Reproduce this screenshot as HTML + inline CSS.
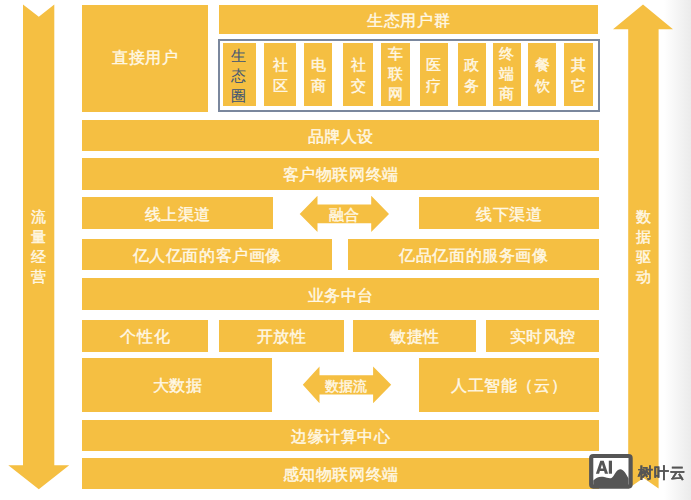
<!DOCTYPE html>
<html><head><meta charset="utf-8">
<style>
html,body{margin:0;padding:0;}
body{width:691px;height:500px;position:relative;overflow:hidden;background:#fff;font-family:"Liberation Sans",sans-serif;}
.bg{position:absolute;left:0;top:0;width:691px;height:500px;background:linear-gradient(to right,#fff 0,#fff 664px,#ebebeb 691px);}
.b{position:absolute;background:#F5BF42;color:#FFF8E6;display:flex;align-items:center;justify-content:center;font-size:16.4px;line-height:1;white-space:nowrap;-webkit-text-stroke:0.4px currentColor;box-sizing:border-box;padding-top:1.5px;letter-spacing:0.6px;padding-left:0.6px;}
.v{flex-direction:column;line-height:20px;font-size:15px;padding-top:0;letter-spacing:0;padding-left:0;}
.v2{line-height:21px;padding-top:1px;}
.ol{position:absolute;left:218px;top:39px;width:378px;height:68.6px;border:2px solid #7A879D;}
svg{position:absolute;left:0;top:0;}
.t{position:absolute;color:#FFF8E6;font-size:15px;line-height:1;white-space:nowrap;-webkit-text-stroke:0.4px currentColor;}
</style></head><body><div id="w" style="position:absolute;left:0;top:0;width:691px;height:500px;">
<div class="bg"></div>
<svg width="691" height="500" viewBox="0 0 691 500">
  <polygon fill="#F5BF42" points="23,4.5 38.8,16.8 54.3,4.5 54.3,465.3 69.2,465.3 38.8,489.2 8.3,465.3 23,465.3"/>
  <polygon fill="#F5BF42" points="643,4.5 673,29.2 658.6,29.2 658.6,488.5 643.5,478 628.2,488.5 628.2,29.2 613,29.2"/>
  <polygon fill="#F5BF42" points="299.7,213.9 317.5,195.8 317.5,204.5 371.2,204.5 371.2,195.8 389,213.9 371.2,232 371.2,223.2 317.5,223.2 317.5,232"/>
  <polygon fill="#F5BF42" points="302.8,384.8 319.5,366.5 319.5,375.3 373.1,375.3 373.1,366.5 391.2,384.8 373.1,403.2 373.1,394.6 319.5,394.6 319.5,403.2"/>
</svg>
<div class="b" style="left:82.1px;top:4.5px;width:125.9px;height:107.2px;padding-top:0;padding-bottom:2px;">直接用户</div>
<div class="b" style="left:218.5px;top:4.5px;width:379.9px;height:29.8px;padding-top:2.5px;">生态用户群</div>
<div class="ol"></div>
<div class="b v" style="left:223px;top:42.9px;width:32.8px;height:63px;color:#465873;-webkit-text-stroke:0.1px currentColor;padding-top:3px;padding-right:1.5px;">生<br>态<br>圈</div>
<div class="b v v2" style="left:264.3px;top:42.9px;width:31.5px;height:63px;">社<br>区</div>
<div class="b v v2" style="left:304px;top:42.9px;width:28px;height:63px;">电<br>商</div>
<div class="b v v2" style="left:342.8px;top:42.9px;width:30.7px;height:63px;">社<br>交</div>
<div class="b v" style="left:381px;top:42.9px;width:28.5px;height:63px;">车<br>联<br>网</div>
<div class="b v v2" style="left:419.5px;top:42.9px;width:28.8px;height:63px;">医<br>疗</div>
<div class="b v v2" style="left:457.8px;top:42.9px;width:28.2px;height:63px;">政<br>务</div>
<div class="b v" style="left:493px;top:42.9px;width:27.8px;height:63px;">终<br>端<br>商</div>
<div class="b v v2" style="left:528px;top:42.9px;width:28px;height:63px;">餐<br>饮</div>
<div class="b v v2" style="left:564.3px;top:42.9px;width:28.5px;height:63px;">其<br>它</div>
<div class="b" style="left:82.1px;top:119.8px;width:516.8px;height:31.3px;">品牌人设</div>
<div class="b" style="left:82.1px;top:158px;width:516.8px;height:31.6px;">客户物联网终端</div>
<div class="b" style="left:82.1px;top:197.4px;width:190.7px;height:31.3px;">线上渠道</div>
<div class="b" style="left:419.3px;top:197.4px;width:179.6px;height:31.5px;">线下渠道</div>
<div class="b" style="left:82.1px;top:239px;width:249.8px;height:30.6px;">亿人亿面的客户画像</div>
<div class="b" style="left:348.2px;top:239px;width:250.7px;height:30.6px;">亿品亿面的服务画像</div>
<div class="b" style="left:82.1px;top:278.3px;width:516.8px;height:31.6px;">业务中台</div>
<div class="b" style="left:82.1px;top:319.8px;width:125.7px;height:31.9px;">个性化</div>
<div class="b" style="left:218.7px;top:319.8px;width:125.0px;height:31.9px;">开放性</div>
<div class="b" style="left:353.2px;top:319.8px;width:123.3px;height:31.9px;">敏捷性</div>
<div class="b" style="left:486.3px;top:319.8px;width:112.6px;height:31.9px;">实时风控</div>
<div class="b" style="left:82.1px;top:358px;width:190.4px;height:53.7px;">大数据</div>
<div class="b" style="left:418.7px;top:358px;width:180.2px;height:53.7px;">人工智能（云）</div>
<div class="b" style="left:82.1px;top:419.8px;width:516.8px;height:31.6px;">边缘计算中心</div>
<div class="b" style="left:82.1px;top:458.3px;width:516.8px;height:31.2px;">感知物联网终端</div>
<div class="t" style="left:329px;top:207px;">融合</div>
<div class="t" style="left:325px;top:378.5px;font-size:14.4px;">数据流</div>
<div class="b v" style="left:22.8px;top:205px;width:31px;height:84px;background:none;">流<br>量<br>经<br>营</div>
<div class="b v" style="left:628.2px;top:205px;width:30.4px;height:84px;background:none;">数<br>据<br>驱<br>动</div>
<svg width="691" height="500" viewBox="0 0 691 500">
  <rect x="591.2" y="456" width="39.4" height="30.6" rx="2" fill="#fff" stroke="#555" stroke-width="4.2"/>
  <path fill="#555" d="M593.3,480.5 C596,477.5 599,476.3 603,476.8 C607,477.4 609,478.8 611.5,478 C614,477 616,469.5 620,469.3 C624,469.2 626.5,475 628.5,478.5 L628.5,487 L593.3,487 Z"/>
  <path fill="#555" fill-rule="evenodd" d="M595.9,473.7 L600.3,460.7 L603.7,460.7 L608.1,473.7 L604.9,473.7 L604.1,471.1 L599.9,471.1 L599.1,473.7 Z M600.7,468.5 L603.3,468.5 L602,464.3 Z"/><rect x="608.8" y="460.7" width="3.2" height="13" fill="#555"/>
</svg>
<div class="t" style="left:638px;top:464.8px;color:#555;font-size:15.3px;font-weight:bold;-webkit-text-stroke:0.15px #555;letter-spacing:0.8px;will-change:transform;">树叶云</div>
</div></body></html>
